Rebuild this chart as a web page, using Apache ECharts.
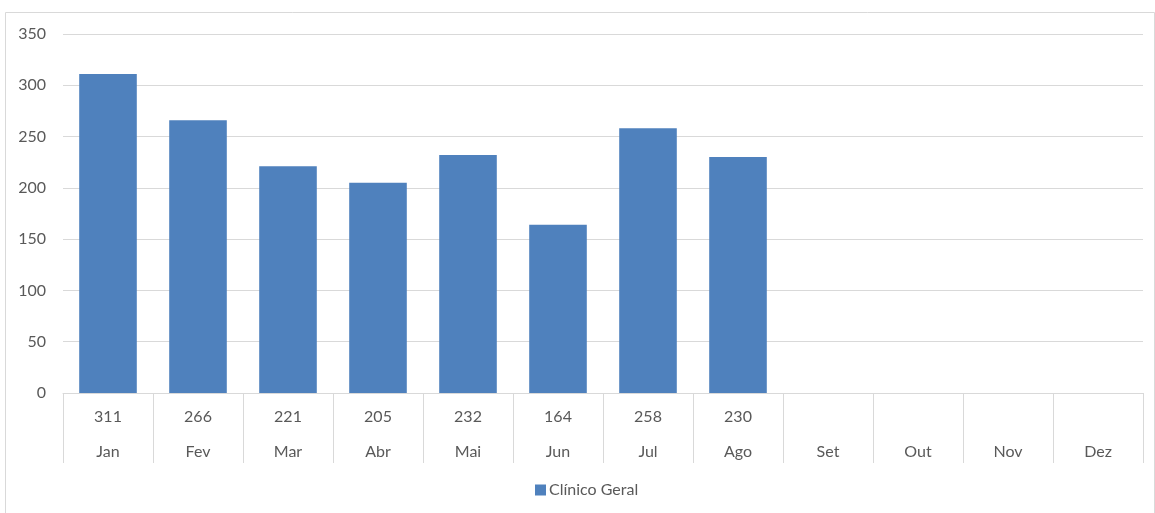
<!DOCTYPE html>
<html>
<head>
<meta charset="utf-8">
<script src="https://cdn.jsdelivr.net/npm/echarts@6/dist/echarts.min.js"></script>
<style>
  html, body { margin: 0; padding: 0; background: #fff; }
  #chart { width: 1155px; height: 513px; }
</style>
</head>
<body>
<div id="chart"></div>
<script>
// dados do gráfico
var meses = ['Jan', 'Fev', 'Mar', 'Abr', 'Mai', 'Jun', 'Jul', 'Ago', 'Set', 'Out', 'Nov', 'Dez'];
var clinicoGeral = [311, 266, 221, 205, 232, 164, 258, 230, null, null, null, null];
var serieNome = 'Clínico Geral';

var corTexto = '#595959';
var corLinha = '#d9d9d9';
var fonte = 'Lato, "Open Sans", sans-serif';

var chart = echarts.init(document.getElementById('chart'));
chart.setOption({
    backgroundColor: '#ffffff',
    animation: false,
    textStyle: { fontFamily: fonte },
    grid: { left: 63, right: 12, top: 34, bottom: 120 },
    // borda externa do gráfico
    graphic: [{
        type: 'rect',
        shape: { x: 5.5, y: 12.5, width: 1149, height: 520 },
        style: { fill: 'none', stroke: corLinha, lineWidth: 1 },
        silent: true
    }],
    legend: {
        left: 535,
        top: 482,
        padding: 0,
        itemWidth: 11,
        itemHeight: 11,
        icon: 'rect',
        textStyle: { color: corTexto, fontSize: 16, fontFamily: fonte, padding: [0, 0, 0, -2] },
        data: [serieNome]
    },
    xAxis: {
        type: 'category',
        data: meses,
        axisLine: { lineStyle: { color: corLinha } },
        axisTick: { show: true, length: 70, lineStyle: { color: corLinha } },
        axisLabel: {
            margin: 6,
            interval: 0,
            formatter: function (v, i) {
                var val = clinicoGeral[i];
                return '{v|' + (val == null ? ' ' : val) + '}\n{m|' + v + '}';
            },
            rich: {
                v: { color: corTexto, fontSize: 16, lineHeight: 35, fontFamily: fonte },
                m: { color: corTexto, fontSize: 16, lineHeight: 35, fontFamily: fonte }
            }
        }
    },
    yAxis: {
        type: 'value',
        min: 0,
        max: 350,
        interval: 50,
        axisLine: { show: false },
        axisTick: { show: false },
        axisLabel: { color: corTexto, fontSize: 16, margin: 17, fontFamily: fonte },
        splitLine: { lineStyle: { color: corLinha } }
    },
    series: [{
        name: serieNome,
        type: 'bar',
        data: clinicoGeral,
        barWidth: '64%',
        itemStyle: { color: '#4f81bd' }
    }]
});
</script>
</body>
</html>
